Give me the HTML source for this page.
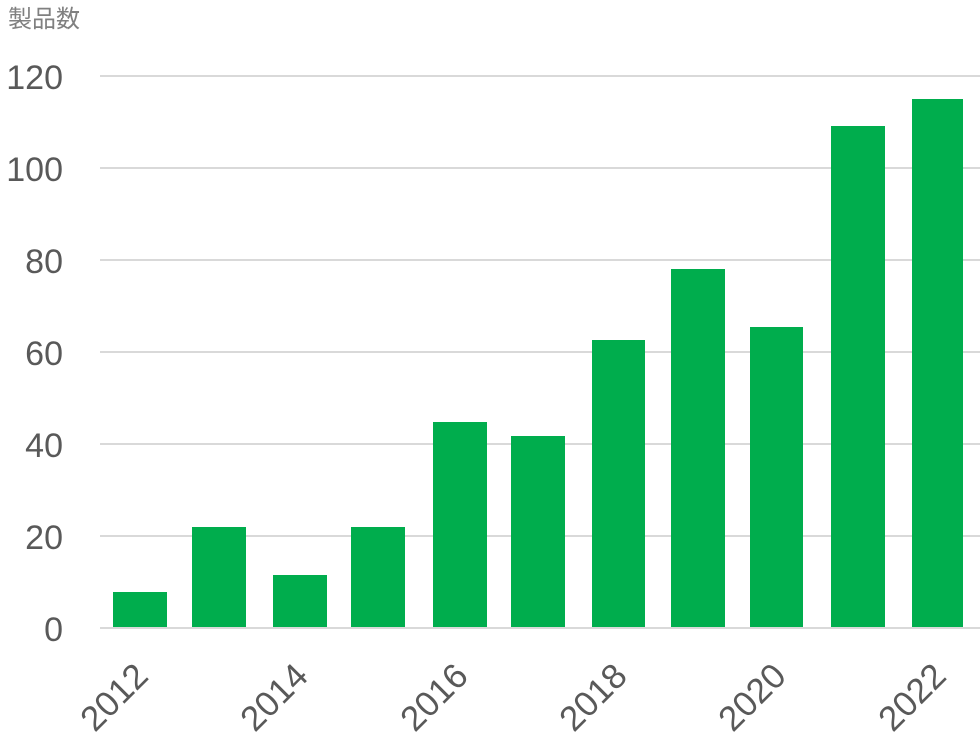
<!DOCTYPE html>
<html><head><meta charset="utf-8"><style>
html,body{margin:0;padding:0;background:#fff;width:980px;height:740px;overflow:hidden}
text{font-family:"Liberation Sans","Noto Sans CJK JP",sans-serif;fill:#595959}
</style></head><body>
<svg width="980" height="740" viewBox="0 0 980 740" xmlns="http://www.w3.org/2000/svg">
<text x="8" y="27" font-size="24" style="fill:#808080">製品数</text>
<g stroke="#d9d9d9" stroke-width="2">
<line x1="100" y1="76" x2="980" y2="76"/>
<line x1="100" y1="168" x2="980" y2="168"/>
<line x1="100" y1="260" x2="980" y2="260"/>
<line x1="100" y1="352" x2="980" y2="352"/>
<line x1="100" y1="444" x2="980" y2="444"/>
<line x1="100" y1="536" x2="980" y2="536"/>
<line x1="100" y1="628" x2="980" y2="628"/>
</g>
<g font-size="34" text-anchor="end">
<text x="63" y="89">120</text>
<text x="63" y="181">100</text>
<text x="63" y="273">80</text>
<text x="63" y="365">60</text>
<text x="63" y="457">40</text>
<text x="63" y="549">20</text>
<text x="63" y="641">0</text>
</g>
<g fill="#00ad4d">
<rect x="113" y="592" width="54" height="35"/>
<rect x="192" y="527" width="54" height="100"/>
<rect x="273" y="575" width="54" height="52"/>
<rect x="351" y="527" width="54" height="100"/>
<rect x="433" y="422" width="54" height="205"/>
<rect x="511" y="436" width="54" height="191"/>
<rect x="592" y="340" width="53" height="287"/>
<rect x="671" y="269" width="54" height="358"/>
<rect x="750" y="327" width="53" height="300"/>
<rect x="831" y="126" width="54" height="501"/>
<rect x="912" y="99" width="51" height="528"/>
</g>
<g font-size="35" text-anchor="end">
<text transform="translate(150,678) rotate(-45)">2012</text>
<text transform="translate(310,678) rotate(-45)">2014</text>
<text transform="translate(470,678) rotate(-45)">2016</text>
<text transform="translate(629,678) rotate(-45)">2018</text>
<text transform="translate(788,678) rotate(-45)">2020</text>
<text transform="translate(948,678) rotate(-45)">2022</text>
</g>
</svg>
</body></html>
